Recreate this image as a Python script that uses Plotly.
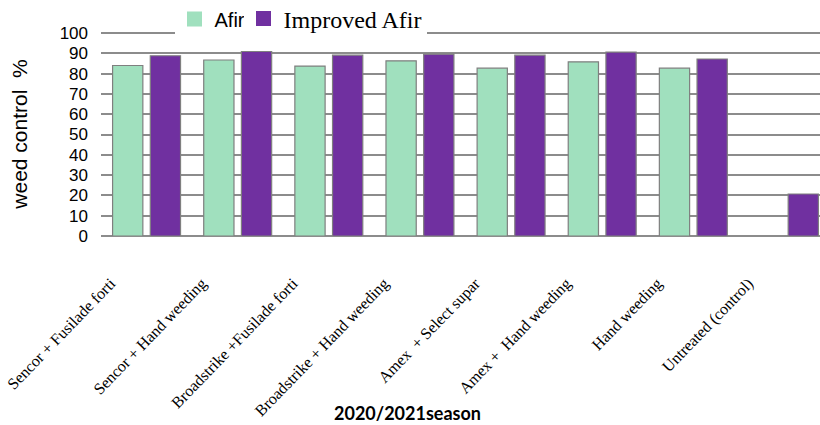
import plotly.graph_objects as go

categories = [
    "Sencor + Fusilade forti",
    "Sencor + Hand weeding",
    "Broadstrike +Fusilade forti",
    "Broadstrike + Hand weeding",
    "Amex  + Select supar",
    "Amex +  Hand weeding",
    "Hand weeding",
    "Untreated (control)",
]
afir = [84.0, 86.7, 83.7, 86.3, 82.7, 85.8, 82.7, None]
improved_afir = [88.8, 90.9, 89.1, 89.6, 89.1, 90.6, 87.2, 20.7]
y_ticks = [0, 10, 20, 30, 40, 50, 60, 70, 80, 90, 100]

AFIR_COLOR = "#A0E0BE"
IMP_COLOR = "#7030A0"
EDGE = "#7F7F7F"
GRID = "#8C8C8C"

TOP, BOTTOM, LEFT = 32, 189, 101
PH = 425 - TOP - BOTTOM
PW = 820 - LEFT

fig = go.Figure()
fig.add_trace(go.Bar(x=categories, y=afir, name="Afir",
                     marker=dict(color=AFIR_COLOR, line=dict(color=EDGE, width=1.2)), showlegend=False))
fig.add_trace(go.Bar(x=categories, y=improved_afir, name="Improved Afir",
                     marker=dict(color=IMP_COLOR, line=dict(color=EDGE, width=1.2)), showlegend=False))

# legend entries (two legends so each can carry its own font)
fig.add_trace(go.Scatter(x=[None], y=[None], mode="markers", name="Afir", legend="legend",
                         marker=dict(symbol="square", size=15, color=AFIR_COLOR)))
fig.add_trace(go.Scatter(x=[None], y=[None], mode="markers", name="Improved Afir", legend="legend2",
                         marker=dict(symbol="square", size=15, color=IMP_COLOR)))

leg_y = 1 + (TOP - 19) / PH
fig.update_layout(
    width=820, height=425,
    margin=dict(l=LEFT, r=0, t=TOP, b=BOTTOM, autoexpand=False),
    paper_bgcolor="white", plot_bgcolor="white",
    barmode="group", bargap=0.173, bargroupgap=0.197,
    font=dict(family="Liberation Sans, Arial", color="black"),
    legend=dict(orientation="h", x=(174.5 - LEFT) / PW, xanchor="left", y=leg_y, yanchor="middle",
                bgcolor="white", font=dict(size=20, family="Liberation Sans", color="black"),
                itemwidth=30),
    legend2=dict(orientation="h", x=(243.5 - LEFT) / PW, xanchor="left", y=leg_y, yanchor="middle",
                 bgcolor="white", font=dict(size=24, family="Liberation Serif", color="black"),
                 itemwidth=30),
    showlegend=True,
)
fig.update_xaxes(
    range=[-0.5, 7.39], showgrid=False, showline=False, zeroline=False,
    tickangle=-46, tickfont=dict(family="Liberation Serif", size=16, color="black"),
    ticklabelstandoff=34, ticklabelshift=-36, ticks="",
)
fig.update_yaxes(
    range=[0, 100.5], tickvals=y_ticks, showgrid=True, gridcolor=GRID, gridwidth=1.5,
    zeroline=True, zerolinecolor=GRID, zerolinewidth=1.5, showline=False,
    tickfont=dict(size=17, color="black"), ticklabelstandoff=12,
    title=dict(text="weed control  %", font=dict(size=21, color="black"), standoff=26),
)
fig.add_annotation(text="<b>2020/2021season</b>", xref="paper", yref="paper",
                   x=(407 - LEFT) / PW, y=(236 - 413) / PH, xanchor="center", yanchor="middle",
                   showarrow=False, font=dict(family="Lato", size=18, color="black"))

fig.write_html("out.html")
